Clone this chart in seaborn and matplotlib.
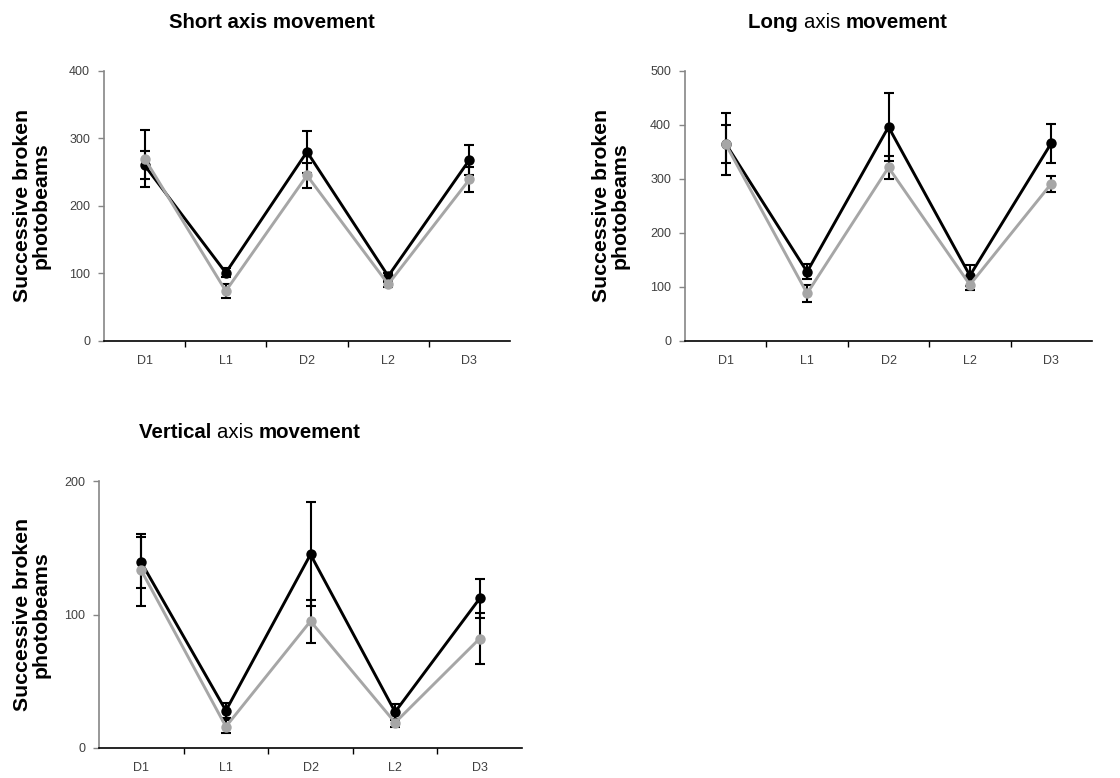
import numpy as np
import pandas as pd
import matplotlib
matplotlib.use("Agg")
import matplotlib.pyplot as plt
import seaborn as sns
from matplotlib.ticker import FixedLocator

sns.set_style("white")
plt.rcParams['font.family'] = ['Liberation Sans', 'DejaVu Sans']
plt.rcParams['text.color'] = 'black'

categories = ["D1", "L1", "D2", "L2", "D3"]

short_black = [260, 101, 280, 96, 268]
short_black_err = [21, 7, 31, 5, 22]
short_gray = [270, 74, 245, 84, 239]
short_gray_err = [42, 11, 19, 4, 19]

long_black = [365, 128, 396, 121, 366]
long_black_err = [35, 14, 63, 19, 36]
long_gray = [364, 88, 321, 104, 291]
long_gray_err = [57, 15, 22, 10, 15]

vert_black = [139, 28, 145, 27, 112]
vert_black_err = [19, 5.5, 39, 6, 14.5]
vert_gray = [133, 16, 95, 19, 82]
vert_gray_err = [27, 5, 16, 3, 19]

short_yticks = [0, 100, 200, 300, 400]
long_yticks = [0, 100, 200, 300, 400, 500]
vert_yticks = [0, 100, 200]

BLACK = "#000000"
GRAY = "#a6a6a6"

W, H = 1120, 778
fig = plt.figure(figsize=(W / 100, H / 100), dpi=100)


def px_axes(left, right, top, bottom):
    return fig.add_axes([left / W, (H - bottom) / H, (right - left) / W, (bottom - top) / H])


def draw_panel(ax, black, black_err, gray, gray_err, yticks):
    x = np.arange(len(categories))
    df = pd.DataFrame({"x": np.concatenate([x, x]),
                       "y": np.concatenate([black, gray]),
                       "series": ["black"] * len(x) + ["gray"] * len(x)})
    ax.errorbar(x, black, yerr=black_err, fmt="none", ecolor="black",
                elinewidth=1.5, capsize=3.6, capthick=1.5, zorder=2)
    ax.errorbar(x, gray, yerr=gray_err, fmt="none", ecolor="black",
                elinewidth=1.5, capsize=3.6, capthick=1.5, zorder=2)
    sns.lineplot(data=df, x="x", y="y", hue="series",
                 palette={"black": BLACK, "gray": GRAY},
                 marker="o", markersize=7.5, markeredgewidth=0,
                 linewidth=2.1, legend=False, ax=ax, zorder=3)
    ax.set_xlim(-0.5, len(categories) - 0.5)
    ax.set_ylim(yticks[0], yticks[-1])
    ax.set_xlabel("")
    ax.set_ylabel("")
    ax.set_xticks(x)
    ax.set_xticklabels(categories)
    ax.xaxis.set_minor_locator(FixedLocator([0.5, 1.5, 2.5, 3.5]))
    ax.tick_params(axis="x", which="major", length=0, pad=10, labelsize=9, labelcolor="#404040")
    ax.tick_params(axis="x", which="minor", length=4, width=1, color="black", direction="out", bottom=True)
    ax.set_yticks(yticks)
    ax.set_yticklabels([str(t) for t in yticks])
    ax.tick_params(axis="y", length=4, width=1, color="#868686", direction="out", left=True,
                   labelsize=9, labelcolor="#404040", pad=6)
    for s in ["top", "right"]:
        ax.spines[s].set_visible(False)
    ax.spines["left"].set_color("#868686")
    ax.spines["left"].set_linewidth(1.2)
    ax.spines["bottom"].set_color("black")
    ax.spines["bottom"].set_linewidth(1.2)
    ax.set_facecolor("white")


ax1 = px_axes(104, 510, 70.7, 341)
draw_panel(ax1, short_black, short_black_err, short_gray, short_gray_err, short_yticks)
ax2 = px_axes(685, 1092, 70.7, 341)
draw_panel(ax2, long_black, long_black_err, long_gray, long_gray_err, long_yticks)
ax3 = px_axes(99, 522, 481, 748)
draw_panel(ax3, vert_black, vert_black_err, vert_gray, vert_gray_err, vert_yticks)

ylabel = "Successive broken\nphotobeams"
for ax, xpx in [(ax1, 32), (ax2, 611), (ax3, 32)]:
    pos = ax.get_position()
    yc = pos.y0 + pos.height / 2
    fig.text(xpx / W, yc, ylabel, rotation=90, ha="center", va="center",
             fontsize=15.3, fontweight="bold", linespacing=1.0, color="black")

renderer = fig.canvas.get_renderer()


def mixed_title(cx, cy, pieces):
    texts = []
    for s, w in pieces:
        t = fig.text(0, cy / H, s, fontsize=14.7, fontweight=w, ha="left", va="center", color="black")
        texts.append(t)
    widths = [t.get_window_extent(renderer).width for t in texts]
    total = sum(widths)
    x0 = cx - total / 2
    for t, wdt in zip(texts, widths):
        t.set_x(x0 / W)
        x0 += wdt


mixed_title(272, 778 - 22, [("Short axis movement", "bold")])
mixed_title(848, 778 - 22, [("Long ", "bold"), ("axis ", "normal"), ("movement", "bold")])
mixed_title(250, 778 - 433, [("Vertical ", "bold"), ("axis ", "normal"), ("movement", "bold")])

fig.savefig("out.png", dpi=100, facecolor="white")
